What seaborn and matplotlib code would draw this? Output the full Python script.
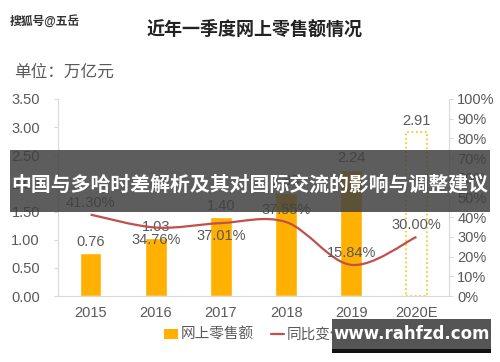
import numpy as np
import pandas as pd
import matplotlib
matplotlib.use("Agg")
import matplotlib.pyplot as plt
from matplotlib.path import Path
from matplotlib.patches import PathPatch, Rectangle, Patch
from matplotlib.lines import Line2D
from matplotlib.ticker import FuncFormatter
import seaborn as sns

# data
years = ["2015", "2016", "2017", "2018", "2019", "2020E"]
sales = [0.76, 1.03, 1.40, 1.83, 2.24, 2.91]          # 万亿元
growth = [41.30, 34.76, 37.01, 37.55, 15.84, 30.00]    # %
growth_label_above = [True, False, False, True, True, True]

sns.set_style("white")
plt.rcParams['font.family'] = ['Liberation Sans', 'Noto Sans CJK SC', 'DejaVu Sans']

bar_color = "#FFB000"
line_color = "#C0504D"
txt_gray = "#595959"
spine_gray = "#D9D9D9"

df = pd.DataFrame({"year": years, "sales": sales})

fig = plt.figure(figsize=(5, 3.62), dpi=100)
ax = fig.add_axes([0.116, 0.182, 0.782, 0.545])

sns.barplot(data=df, x="year", y="sales", color=bar_color, width=0.33,
            saturation=1, ax=ax)
# forecast bar: dotted outline only
last = ax.patches[-1]
last.set_facecolor("none")
last.set_edgecolor("#FFC000")
last.set_linestyle(":")
last.set_linewidth(1.2)

for i, v in enumerate(sales):
    ax.text(i, v + 0.08, f"{v:.2f}", ha="center", va="bottom",
            fontsize=10.5, color=txt_gray)

ax.set_ylim(0, 3.5)
ax.set_xlim(-0.5, 5.5)
ax.set_yticks(np.arange(0, 3.51, 0.5))
ax.yaxis.set_major_formatter(FuncFormatter(lambda v, p: f"{v:.2f}"))
ax.set_xlabel("")
ax.set_ylabel("")
ax.tick_params(axis="y", colors=spine_gray, labelcolor=txt_gray, labelsize=10.5,
               length=3, width=0.8, pad=10, left=True)
ax.tick_params(axis="x", labelcolor=txt_gray, labelsize=10.5, length=0, pad=7)
for s in ["left", "bottom"]:
    ax.spines[s].set_color(spine_gray)
ax.spines["top"].set_visible(False)
ax.spines["right"].set_visible(False)

# growth line on right axis (smoothed like the source chart)
ax2 = ax.twinx()
ax2.set_ylim(0, 100)
ax2.set_yticks(np.arange(0, 101, 10))
ax2.yaxis.set_major_formatter(FuncFormatter(lambda v, p: f"{v:.0f}%"))
ax2.tick_params(axis="y", colors=spine_gray, labelcolor=txt_gray, labelsize=10.5,
                length=3, width=0.8, pad=3)
ax2.spines["right"].set_color(spine_gray)
for s in ["top", "left", "bottom"]:
    ax2.spines[s].set_visible(False)

pts = np.column_stack([np.arange(len(growth)), growth]).astype(float)
verts = [pts[0]]
codes = [Path.MOVETO]
n = len(pts)
for i in range(n - 1):
    p0 = pts[max(i - 1, 0)]
    p1 = pts[i]
    p2 = pts[i + 1]
    p3 = pts[min(i + 2, n - 1)]
    c1 = p1 + (p2 - p0) / 6
    c2 = p2 - (p3 - p1) / 6
    verts += [c1, c2, p2]
    codes += [Path.CURVE4] * 3
ax2.add_patch(PathPatch(Path(verts, codes), facecolor="none",
                        edgecolor=line_color, linewidth=1.6))

for i, (g, up) in enumerate(zip(growth, growth_label_above)):
    if up:
        ax2.text(i, g + 2.5, f"{g:.2f}%", ha="center", va="bottom",
                 fontsize=10.5, color=txt_gray)
    else:
        ax2.text(i, g - 3, f"{g:.2f}%", ha="center", va="top",
                 fontsize=10.5, color=txt_gray)

# titles
fig.text(0.51, 0.917, "近年一季度网上零售额情况", ha="center", va="center",
         fontsize=13, fontweight="bold", color="#222222")
fig.text(0.028, 0.80, "单位：万亿元", ha="left", va="center",
         fontsize=12, color=txt_gray)
fig.text(0.02, 0.94, "搜狐号@五岳", ha="left", va="center",
         fontsize=8.5, fontweight="bold", color="#333333")

# legend
handles = [Patch(facecolor=bar_color, edgecolor="none"),
           Line2D([0], [0], color=line_color, linewidth=1.6)]
fig.legend(handles, ["网上零售额", "同比变化"], loc="center", ncol=2,
           bbox_to_anchor=(0.51, 0.075), frameon=False, fontsize=10.5,
           labelcolor=txt_gray, handlelength=0.9, handletextpad=0.2,
           columnspacing=1.2)

# overlay banner
fig.patches.append(Rectangle((0.02, 0.414), 0.96, 0.171, transform=fig.transFigure,
                             facecolor="#404040", alpha=0.85, edgecolor="none",
                             zorder=10))
fig.text(0.5, 0.489, "中国与多哈时差解析及其对国际交流的影响与调整建议",
         ha="center", va="center", fontsize=14.3, fontweight="bold",
         color="white", zorder=11)

# watermark box
fig.patches.append(Rectangle((0.664, 0.033), 0.318, 0.086, transform=fig.transFigure,
                             facecolor="#555555", edgecolor="none", zorder=10))
fig.patches.append(Rectangle((0.664, 0.025), 0.318, 0.01, transform=fig.transFigure,
                             facecolor="#111111", edgecolor="none", zorder=10))
fig.text(0.823, 0.078, "www.rahfzd.com", ha="center", va="center",
         fontsize=12, fontweight="bold", color="white", zorder=11,
         family="DejaVu Sans")

fig.savefig("out.png", dpi=100)
